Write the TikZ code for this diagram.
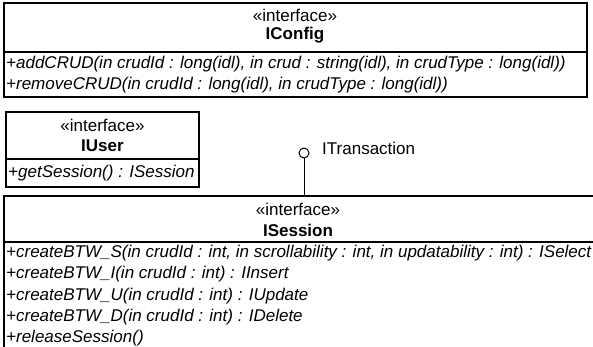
\documentclass[tikz,border=0pt]{standalone}
\usepackage{fontspec}
\setmainfont{Liberation Sans}
\begin{document}
\begin{tikzpicture}[x=1pt,y=-1pt,
  box/.style={draw=black,line width=1.3pt},
  stereo/.style={inner sep=0pt,anchor=center,font=\fontsize{17}{19}\selectfont},
  cname/.style={inner sep=0pt,anchor=center,font=\fontsize{17}{19}\selectfont\bfseries},
  oper/.style={inner sep=0pt,anchor=west,font=\fontsize{17}{19}\selectfont\itshape},
  lbl/.style={inner sep=0pt,anchor=west,font=\fontsize{17}{19}\selectfont},
  lolli/.style={circle,draw=black,line width=1pt,minimum size=10pt,inner sep=0pt},
  conn/.style={draw=black,line width=1pt}]
\useasboundingbox (0,0) rectangle (593,347);
\begin{scope}
\clip (0,0) rectangle (593,347);
% IConfig
\draw[box] (4,3) rectangle (587,97);
\draw[box] (4,52) -- (587,52);
\node[stereo] (cfgst) at (295,15) {«interface»};
\node[cname] (cfgname) at (295,35) {IConfig};
\node[oper] (cfgop1) at (6,64) {+addCRUD(in crudId : long(idl), in crud : string(idl), in crudType : long(idl))};
\node[oper] (cfgop2) at (6,85) {+removeCRUD(in crudId : long(idl), in crudType : long(idl))};
% IUser
\draw[box] (6,112) rectangle (199,187);
\draw[box] (6,159) -- (199,159);
\node[stereo] (usrst) at (102.5,125) {«interface»};
\node[cname] (usrname) at (102.5,146) {IUser};
\node[oper] (usrop1) at (8,173) {+getSession() : ISession};
% ISession
\draw[box] (4,196) rectangle (600,352);
\draw[box] (4,242) -- (600,242);
\node[stereo] (sesst) at (298,209) {«interface»};
\node[cname] (sesname) at (298,230) {ISession};
\node[oper] (sesop1) at (6,253) {+createBTW\_S(in crudId : int, in scrollability : int, in updatability : int) : ISelect};
\node[oper] (sesop2) at (6,274) {+createBTW\_I(in crudId : int) : IInsert};
\node[oper] (sesop3) at (6,296) {+createBTW\_U(in crudId : int) : IUpdate};
\node[oper] (sesop4) at (6,317) {+createBTW\_D(in crudId : int) : IDelete};
\node[oper] (sesop5) at (6,338) {+releaseSession()};
% lollipop
\node[lolli] (ifc) at (304,153) {};
\coordinate (sestop) at (304,196);
\draw[conn] (ifc.south) -- (sestop);
\node[lbl] (ifclbl) at (322,148) {ITransaction};
\end{scope}
\end{tikzpicture}
\end{document}
